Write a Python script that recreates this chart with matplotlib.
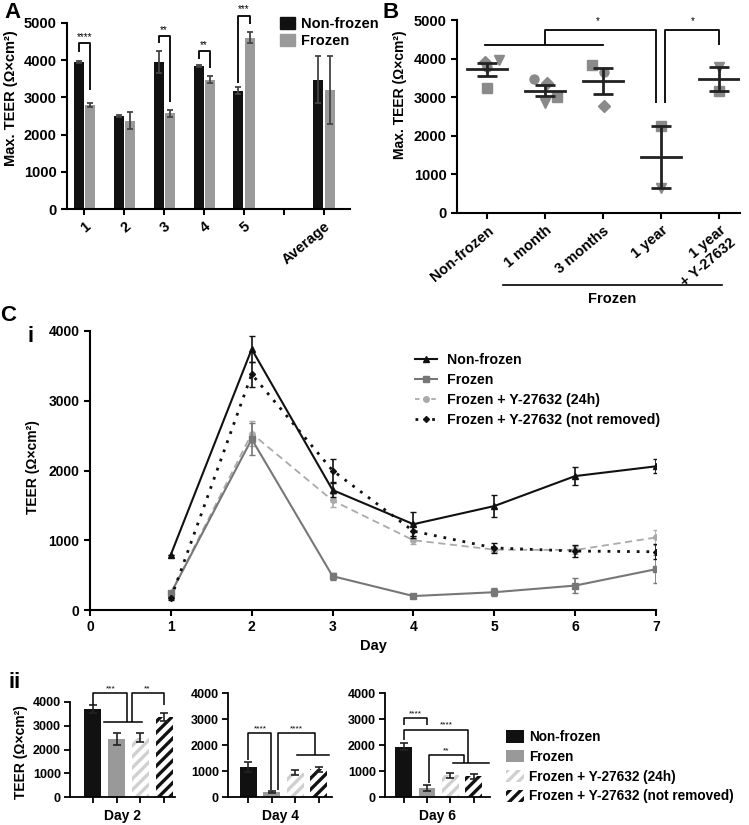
import matplotlib
matplotlib.use('Agg')
import matplotlib.pyplot as plt
import numpy as np
from matplotlib.lines import Line2D
from matplotlib.patches import Patch

plt.rcParams['font.family'] = ['Liberation Sans', 'DejaVu Sans']
plt.rcParams['font.weight'] = 'bold'
plt.rcParams['axes.labelweight'] = 'bold'
plt.rcParams['hatch.linewidth'] = 2.4

# ---------------- data ----------------
A_categories = ['1', '2', '3', '4', '5', '', 'Average']
A_nonfrozen = [3955, 2500, 3955, 3840, 3180, np.nan, 3480]
A_nonfrozen_err = [30, 20, 300, 20, 100, np.nan, 640]
A_frozen = [2795, 2375, 2570, 3480, 4610, np.nan, 3200]
A_frozen_err = [50, 220, 100, 100, 150, np.nan, 910]

B_categories = ['Non-frozen', '1 month', '3 months', '1 year', '1 year\n+ Y-27632']
B_points = [
    [3920, 3790, 3960, 3240],
    [3480, 3360, 2850, 3000],
    [3830, 3660, 2760],
    [2250, 640],
    [3780, 3150],
]
B_markers = [['D', 'o', 'v', 's'], ['o', 'D', 'v', 's'], ['s', 'o', 'D'], ['s', 'v'], ['v', 's']]

C_days = [1, 2, 3, 4, 5, 6, 7]
C_series = ['Non-frozen', 'Frozen', 'Frozen + Y-27632 (24h)', 'Frozen + Y-27632 (not removed)']
C_nonfrozen = [795, 3740, 1720, 1230, 1490, 1920, 2060]
C_nonfrozen_err = [0, 190, 100, 170, 160, 130, 100]
C_frozen = [240, 2450, 485, 200, 255, 350, 585]
C_frozen_err = [30, 230, 50, 20, 60, 110, 200]
C_y24h = [240, 2530, 1570, 1000, 865, 860, 1040]
C_y24h_err = [30, 180, 100, 60, 40, 60, 110]
C_notremoved = [165, 3380, 2000, 1130, 890, 845, 835]
C_notremoved_err = [20, 180, 170, 100, 70, 80, 110]

D_days = ['Day 2', 'Day 4', 'Day 6']
D_values = [[3720, 2450, 2500, 3360],
            [1160, 190, 940, 1060],
            [1940, 350, 840, 800]]
D_errors = [[170, 250, 180, 180],
            [180, 30, 80, 100],
            [130, 130, 100, 100]]

# ---------------- layout ----------------
W, H = 749, 825
fig = plt.figure(figsize=(W / 100, H / 100), dpi=100)


def add_ax(l, t, r, b):
    return fig.add_axes([l / W, 1 - b / H, (r - l) / W, (b - t) / H])


def prism(ax, lw=1.5, fs=10.5, pad=3.5):
    for s in ['top', 'right']:
        ax.spines[s].set_visible(False)
    for s in ['left', 'bottom']:
        ax.spines[s].set_linewidth(lw)
    ax.tick_params(width=lw, length=4, labelsize=fs, pad=pad)
    for lab in ax.get_yticklabels() + ax.get_xticklabels():
        lab.set_fontweight('bold')


def bracket(ax, x1, x2, ytop, yl, yr, text=None, tx=None, ty=None, lw=1.3, fs=7):
    ax.plot([x1, x1, x2, x2], [yl, ytop, ytop, yr], color='black', lw=lw,
            clip_on=False, solid_capstyle='butt', zorder=5)
    if text:
        ax.text((x1 + x2) / 2 if tx is None else tx, ty, text, ha='center',
                va='bottom', fontsize=fs, fontweight='normal', clip_on=False)


def hline(ax, x1, x2, y, lw=1.3):
    ax.plot([x1, x2], [y, y], color='black', lw=lw, clip_on=False, zorder=5)


def set_ylabel_px(ax, text, xpx, ypx, fs):
    ax.set_ylabel(text, fontsize=fs, fontweight='bold')
    inv = ax.transAxes.inverted()
    disp = fig.transFigure.transform((xpx / W, 1 - ypx / H))
    ax.yaxis.set_label_coords(*inv.transform(disp))


# ---------------- Panel A ----------------
axA = add_ax(67, 23, 350, 209)
xa = np.arange(len(A_categories))
off, bw = 0.14, 0.25
axA.bar(xa - off, A_nonfrozen, bw, color='#111111', label='Non-frozen')
axA.bar(xa + off, A_frozen, bw, color='#9a9a9a', label='Frozen')
axA.errorbar(xa - off, A_nonfrozen, yerr=A_nonfrozen_err, fmt='none', ecolor='#444444',
             capsize=2.5, elinewidth=1.3, capthick=1.3)
axA.errorbar(xa + off, A_frozen, yerr=A_frozen_err, fmt='none', ecolor='#444444',
             capsize=2.5, elinewidth=1.3, capthick=1.3)
axA.set_ylim(0, 5000)
axA.set_xlim(-0.43, 6.65)
axA.set_yticks([0, 1000, 2000, 3000, 4000, 5000])
axA.set_xticks(xa)
axA.set_xticklabels(A_categories, rotation=40, ha='right', rotation_mode='anchor')
prism(axA, fs=10.5)
set_ylabel_px(axA, 'Max. TEER (Ω×cm²)', 18, 98, 10.5)
bracket(axA, 0 - off, 0 + off, 4450, 4220, 3200, '****', ty=4480)
bracket(axA, 2 - off, 2 + off, 4640, 4450, 2880, '**', ty=4680)
bracket(axA, 3 - off, 3 + off, 4240, 4040, 3780, '**', ty=4280)
bracket(axA, 4 - off, 4 + off, 5200, 3375, 4980, '***', ty=5240)
fig.legend(handles=[Patch(color='#111111'), Patch(color='#9a9a9a')],
           labels=['Non-frozen', 'Frozen'], loc='upper left',
           bbox_to_anchor=(267 / W, 1 - 4 / H), frameon=False,
           handlelength=1.0, handleheight=0.9, handletextpad=0.4, labelspacing=0.2,
           prop={'weight': 'bold', 'size': 10.5})

# ---------------- Panel B ----------------
axB = add_ax(457, 20, 740, 213)
jit = [[-0.04, 0.0, 0.2, 0.0], [-0.2, 0.03, 0.0, 0.2], [-0.2, 0.02, 0.02], [0.0, 0.0], [0.0, 0.0]]
for i, pts in enumerate(B_points):
    for j, v in enumerate(pts):
        axB.plot(i + jit[i][j], v, marker=B_markers[i][j], color='#8a8a8a', ms=6.5,
                 ls='none', zorder=2)
    m = np.mean(pts)
    sem = np.std(pts, ddof=1) / np.sqrt(len(pts))
    axB.plot([i - 0.35, i + 0.35], [m, m], color='#222222', lw=2, zorder=3)
    axB.errorbar(i, m, yerr=sem, fmt='none', ecolor='#222222', capsize=7,
                 elinewidth=2, capthick=2, zorder=3)
axB.set_ylim(0, 5000)
axB.set_xlim(-0.52, 4.36)
axB.set_yticks([0, 1000, 2000, 3000, 4000, 5000])
axB.set_xticks(range(len(B_categories)))
axB.set_xticklabels(B_categories, rotation=40, ha='right', rotation_mode='anchor')
prism(axB, fs=10.5)
set_ylabel_px(axB, 'Max. TEER (Ω×cm²)', 407, 95, 10)
hline(axB, -0.03, 2.0, 4350)
bracket(axB, 1, 2.92, 4740, 4350, 2840, '*', tx=1.9, ty=4830)
bracket(axB, 3.07, 4, 4740, 2840, 4350, '*', tx=3.55, ty=4830)
fig.add_artist(Line2D([503 / W, 722 / W], [1 - 285 / H, 1 - 285 / H], color='black', lw=1.2))
fig.text(612 / W, 1 - 299 / H, 'Frozen', ha='center', va='center', fontsize=10.5,
         fontweight='bold')

# ---------------- Panel C i ----------------
axC = add_ax(90, 331, 656, 610)
axC.errorbar(C_days, C_nonfrozen, yerr=C_nonfrozen_err, color='#111111', marker='^', ms=5,
             lw=1.5, capsize=2, elinewidth=1.2, zorder=4)
axC.errorbar(C_days, C_frozen, yerr=C_frozen_err, color='#777777', marker='s', ms=4,
             lw=1.5, capsize=2, elinewidth=1.2, zorder=3)
axC.errorbar(C_days, C_y24h, yerr=C_y24h_err, color='#aaaaaa', marker='o', ms=4,
             lw=1.3, ls=(0, (4, 2.5)), capsize=2, elinewidth=1.2, zorder=2)
axC.errorbar(C_days, C_notremoved, yerr=C_notremoved_err, color='#111111', marker='D', ms=3,
             lw=2, ls=(0, (1, 2.5)), capsize=2, elinewidth=1.2, zorder=5)
axC.set_xlim(0, 7)
axC.set_ylim(0, 4000)
axC.set_xticks(range(0, 8))
axC.set_yticks([0, 1000, 2000, 3000, 4000])
axC.set_xlabel('Day', fontsize=10.5, fontweight='bold', labelpad=3)
prism(axC, lw=1.5, fs=10)
set_ylabel_px(axC, 'TEER (Ω×cm²)', 40, 467, 10)
leg_handles = [
    Line2D([], [], color='#111111', marker='^', ms=5, lw=1.5),
    Line2D([], [], color='#777777', marker='s', ms=4, lw=1.5),
    Line2D([], [], color='#aaaaaa', marker='o', ms=4, lw=1.3, ls=(0, (2.5, 2))),
    Line2D([], [], color='#111111', marker='D', ms=3, lw=2, ls=(0, (1, 2))),
]
fig.legend(leg_handles, C_series, loc='upper left', bbox_to_anchor=(402 / W, 1 - 340 / H),
           frameon=False, handlelength=1.6, handletextpad=0.7, labelspacing=0.42,
           prop={'weight': 'bold', 'size': 10.2})

# ---------------- Panel C ii ----------------
ii_boxes = [(70, 702, 175, 797), (228, 693, 332, 797), (385, 693, 490, 797)]
ii_xlims = [(-0.95, 3.45), (-0.86, 3.56), (-0.8, 3.7)]
bar_face = ['#111111', '#999999', 'white', 'white']
bar_hatch = [None, None, '///', '///']
bar_edge = ['#111111', '#999999', '#d0d0d0', '#111111']
axes_ii = []
for k in range(3):
    ax = add_ax(*ii_boxes[k])
    xb = np.arange(4)
    for j in range(4):
        ax.bar(xb[j], D_values[k][j], 0.72, color=bar_face[j], edgecolor=bar_edge[j],
               hatch=bar_hatch[j], lw=0)
    ax.errorbar(xb, D_values[k], yerr=D_errors[k], fmt='none', ecolor='#222222', capsize=3,
                elinewidth=1.2, capthick=1.2)
    ax.set_ylim(0, 4000)
    ax.set_xlim(*ii_xlims[k])
    ax.set_yticks([0, 1000, 2000, 3000, 4000])
    ax.set_xticks(xb)
    ax.set_xticklabels([''] * 4)
    ax.tick_params(axis='x', length=3)
    ax.set_xlabel(D_days[k], fontsize=10, fontweight='bold', labelpad=2)
    prism(ax, lw=1.3, fs=9, pad=2.5)
    axes_ii.append(ax)

set_ylabel_px(axes_ii[0], 'TEER (Ω×cm²)', 28, 752, 10)

# brackets day 2
a = axes_ii[0]
bracket(a, 0, 1.45, 4380, 3890, 3140, '***', tx=0.75, ty=4420, lw=1.1, fs=6)
hline(a, 0.46, 2.05, 3140, lw=1.1)
bracket(a, 1.65, 3, 4380, 3140, 3890, '**', tx=2.3, ty=4420, lw=1.1, fs=6)
# day 4
a = axes_ii[1]
bracket(a, 0, 0.95, 2450, 1420, 260, '****', tx=0.5, ty=2500, lw=1.1, fs=6)
bracket(a, 1.26, 2.84, 2450, 260, 1610, '****', tx=2.05, ty=2500, lw=1.1, fs=6)
hline(a, 2.07, 3.45, 1610, lw=1.1)
# day 6
a = axes_ii[2]
bracket(a, 0, 1, 3030, 2770, 2770, '****', tx=0.5, ty=3080, lw=1.1, fs=6)
bracket(a, 0, 2.74, 2580, 2190, 1320, '****', tx=1.85, ty=2620, lw=1.1, fs=6)
hline(a, 2.13, 3.65, 1320, lw=1.1)
bracket(a, 1.07, 2.6, 1610, 520, 1320, '**', tx=1.8, ty=1650, lw=1.1, fs=6)

handles = [Patch(facecolor=bar_face[j], edgecolor=bar_edge[j], hatch=bar_hatch[j], lw=0)
           for j in range(4)]
fig.legend(handles, C_series, loc='upper left', bbox_to_anchor=(494 / W, 1 - 718 / H),
           frameon=False, handlelength=1.3, handleheight=1.0, handletextpad=0.4,
           labelspacing=0.42, prop={'weight': 'bold', 'size': 9.8})

# ---------------- panel letters ----------------
fig.text(4 / W, 1 - 2 / H, 'A', fontsize=16, fontweight='bold', va='top')
fig.text(382 / W, 1 - 2 / H, 'B', fontsize=16, fontweight='bold', va='top')
fig.text(0 / W, 1 - 305 / H, 'C', fontsize=16, fontweight='bold', va='top')
fig.text(28 / W, 1 - 326 / H, 'i', fontsize=16, fontweight='bold', va='top')
fig.text(9 / W, 1 - 672 / H, 'ii', fontsize=16, fontweight='bold', va='top')

fig.savefig('out.png', dpi=100)
